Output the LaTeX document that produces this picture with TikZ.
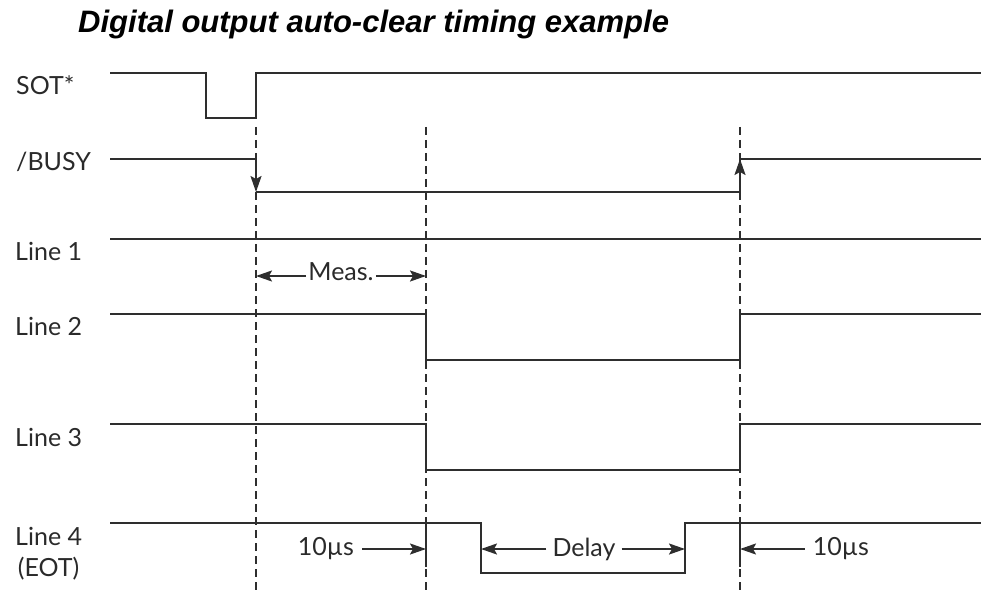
\documentclass[tikz,border=0pt]{standalone}
\usepackage{fontspec}
\setmainfont{Lato}
\newfontfamily\titlefont{Liberation Sans}
\usetikzlibrary{arrows.meta}
\definecolor{sigc}{HTML}{2E2E2E}
\definecolor{txtc}{HTML}{2A2A2A}
\begin{document}
\begin{tikzpicture}[x=1pt,y=-1pt,
  sig/.style={line width=2.4pt, draw=sigc, line join=miter},
  guide/.style={line width=1.8pt, draw=sigc, dash pattern=on 8pt off 5pt},
  lbl/.style={anchor=west, inner sep=0pt, align=center, font=\fontsize{25}{31}\selectfont, text=txtc},
  dimtip/.style={line width=2pt, draw=sigc, -{Stealth[length=16pt,width=11pt,inset=3pt]}},
  dimtxt/.style={inner sep=0pt, font=\fontsize{25}{27}\selectfont, text=txtc},
]
\useasboundingbox (0,0) rectangle (981,593);

% title
\node[anchor=west, inner sep=0pt, font=\titlefont\bfseries\itshape\fontsize{31}{34}\selectfont] (title) at (78,24) {Digital output auto-clear timing example};

% labels
\node[lbl] (lsot) at (16,85) {SOT*};
\node[lbl] (lbusy) at (16,162) {/BUSY};
\node[lbl] (l1) at (15,251) {Line 1};
\node[lbl] (l2) at (15,326) {Line 2};
\node[lbl] (l3) at (15,437) {Line 3};
\node[lbl] (l4) at (15,554) {Line 4\\(EOT)};

% guides
\coordinate (gA1) at (256,127); \coordinate (gA2) at (256,593);
\coordinate (gB1) at (426,127); \coordinate (gB2) at (426,593);
\coordinate (gC1) at (740,127); \coordinate (gC2) at (740,593);
\draw[guide] (gA1) -- (gA2);
\draw[guide] (gB1) -- (gB2);
\draw[guide] (gC1) -- (gC2);

% SOT*
\coordinate (s0) at (110,73); \coordinate (s1) at (206,73); \coordinate (s2) at (206,118);
\coordinate (s3) at (256,118); \coordinate (s4) at (256,73); \coordinate (s5) at (981,73);
\draw[sig] (s0) -- (s1) -- (s2) -- (s3) -- (s4) -- (s5);

% /BUSY
\coordinate (b0) at (110,159); \coordinate (b1) at (256,159); \coordinate (b2) at (256,192);
\coordinate (b3) at (740,192); \coordinate (b4) at (740,159); \coordinate (b5) at (981,159);
\draw[sig] (b0) -- (b1);
\draw[dimtip] (b1) -- (b2);
\draw[sig] (b2) -- (b3);
\draw[dimtip] (b3) -- (b4);
\draw[sig] (b4) -- (b5);

% Line 1
\coordinate (a0) at (110,239); \coordinate (a1) at (981,239);
\draw[sig] (a0) -- (a1);

% Meas.
\coordinate (m1) at (256,276); \coordinate (m2) at (426,276);
\node[dimtxt] (meas) at (341,272) {Meas.};
\draw[dimtip] (meas.west |- m1) ++(-2,0) -- (m1);
\draw[dimtip] (meas.east |- m2) ++(2,0) -- (m2);

% Line 2
\coordinate (c0) at (110,314); \coordinate (c1) at (426,314); \coordinate (c2) at (426,360);
\coordinate (c3) at (740,360); \coordinate (c4) at (740,314); \coordinate (c5) at (981,314);
\draw[sig] (c0) -- (c1) -- (c2) -- (c3) -- (c4) -- (c5);

% Line 3
\coordinate (d0) at (110,424); \coordinate (d1) at (426,424); \coordinate (d2) at (426,470);
\coordinate (d3) at (740,470); \coordinate (d4) at (740,424); \coordinate (d5) at (981,424);
\draw[sig] (d0) -- (d1) -- (d2) -- (d3) -- (d4) -- (d5);

% Line 4
\coordinate (e0) at (110,523); \coordinate (e1) at (481,523); \coordinate (e2) at (481,573);
\coordinate (e3) at (685,573); \coordinate (e4) at (685,523); \coordinate (e5) at (981,523);
\draw[sig] (e0) -- (e1) -- (e2) -- (e3) -- (e4) -- (e5);
\coordinate (t1a) at (426,523); \coordinate (t1b) at (426,567);
\coordinate (t2a) at (740,523); \coordinate (t2b) at (740,567);
\draw[sig] (t1a) -- (t1b);
\draw[sig] (t2a) -- (t2b);

% 10us left
\node[dimtxt] (tl) at (326,549) {10µs};
\coordinate (tlx) at (426,549);
\draw[dimtip] (tl.east |- tlx) ++(8,0) -- (tlx);

% Delay
\node[dimtxt] (dl) at (584,549) {Delay};
\coordinate (dlx1) at (481,549); \coordinate (dlx2) at (685,549);
\draw[dimtip] (dl.west |- dlx1) ++(-6,0) -- (dlx1);
\draw[dimtip] (dl.east |- dlx2) ++(6,0) -- (dlx2);

% 10us right
\node[dimtxt] (tr) at (841,549) {10µs};
\coordinate (trx) at (740,549);
\draw[dimtip] (tr.west |- trx) ++(-8,0) -- (trx);
\end{tikzpicture}
\end{document}
